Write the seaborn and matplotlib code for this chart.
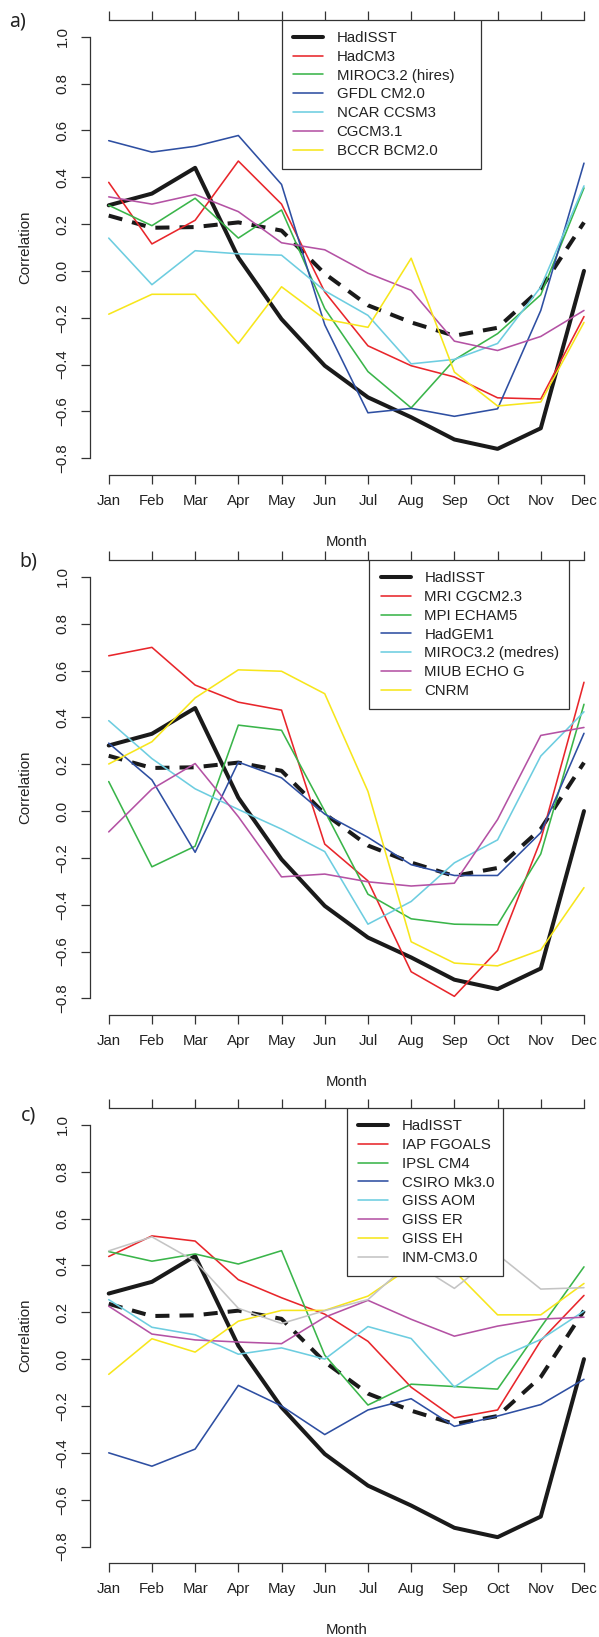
import numpy as np
import matplotlib
matplotlib.use('Agg')
import matplotlib.pyplot as plt
from matplotlib.transforms import IdentityTransform
import seaborn as sns

sns.set_theme(style="ticks")
plt.rcParams['font.family'] = ['Liberation Sans', 'DejaVu Sans']

# Data
months = ['Jan', 'Feb', 'Mar', 'Apr', 'May', 'Jun', 'Jul', 'Aug', 'Sep', 'Oct', 'Nov', 'Dec']
hadisst = [0.28, 0.33, 0.44, 0.057, -0.206, -0.405, -0.54, -0.625, -0.72, -0.76, -0.672, 0.0]
ens_mean = [0.236, 0.184, 0.187, 0.207, 0.172, -0.012, -0.147, -0.22, -0.277, -0.243, -0.076, 0.207]

names_a = ['HadCM3', 'MIROC3.2 (hires)', 'GFDL CM2.0', 'NCAR CCSM3', 'CGCM3.1', 'BCCR BCM2.0']
hadcm3 = [0.378, 0.115, 0.216, 0.469, 0.285, -0.09, -0.32, -0.405, -0.453, -0.542, -0.547, -0.195]
miroc_hires = [0.28, 0.193, 0.31, 0.14, 0.26, -0.161, -0.43, -0.585, -0.38, -0.268, -0.102, 0.354]
gfdl_cm20 = [0.556, 0.507, 0.532, 0.578, 0.369, -0.23, -0.606, -0.587, -0.621, -0.589, -0.169, 0.46]
ncar_ccsm3 = [0.14, -0.059, 0.086, 0.073, 0.067, -0.085, -0.19, -0.397, -0.378, -0.31, -0.069, 0.363]
cgcm31 = [0.316, 0.285, 0.326, 0.253, 0.12, 0.09, -0.01, -0.083, -0.30, -0.34, -0.28, -0.169]
bccr_bcm20 = [-0.185, -0.10, -0.10, -0.31, -0.068, -0.206, -0.241, 0.054, -0.432, -0.577, -0.56, -0.22]

names_b = ['MRI CGCM2.3', 'MPI ECHAM5', 'HadGEM1', 'MIROC3.2 (medres)', 'MIUB ECHO G', 'CNRM']
mri_cgcm23 = [0.663, 0.699, 0.538, 0.465, 0.431, -0.141, -0.298, -0.686, -0.791, -0.595, -0.123, 0.55]
mpi_echam5 = [0.126, -0.238, -0.15, 0.367, 0.345, 0.0, -0.355, -0.46, -0.483, -0.486, -0.183, 0.456]
hadgem1 = [0.29, 0.133, -0.176, 0.209, 0.142, -0.013, -0.112, -0.229, -0.275, -0.275, -0.092, 0.332]
miroc_medres = [0.386, 0.224, 0.095, 0.007, -0.077, -0.173, -0.483, -0.386, -0.221, -0.123, 0.235, 0.424]
miub_echog = [-0.089, 0.094, 0.203, -0.024, -0.281, -0.269, -0.302, -0.32, -0.308, -0.036, 0.323, 0.357]
cnrm = [0.201, 0.296, 0.483, 0.603, 0.597, 0.501, 0.084, -0.558, -0.649, -0.661, -0.593, -0.327]

names_c = ['IAP FGOALS', 'IPSL CM4', 'CSIRO Mk3.0', 'GISS AOM', 'GISS ER', 'GISS EH', 'INM-CM3.0']
iap_fgoals = [0.438, 0.526, 0.504, 0.339, 0.262, 0.192, 0.076, -0.12, -0.251, -0.217, 0.079, 0.272]
ipsl_cm4 = [0.459, 0.418, 0.449, 0.406, 0.463, 0.017, -0.196, -0.107, -0.117, -0.128, 0.136, 0.394]
csiro_mk30 = [-0.40, -0.457, -0.384, -0.112, -0.20, -0.322, -0.217, -0.169, -0.287, -0.243, -0.194, -0.086]
giss_aom = [0.254, 0.136, 0.104, 0.021, 0.048, 0.0, 0.139, 0.088, -0.119, 0.002, 0.084, 0.205]
giss_er = [0.226, 0.107, 0.082, 0.073, 0.066, 0.179, 0.251, 0.17, 0.098, 0.141, 0.171, 0.179]
giss_eh = [-0.065, 0.087, 0.03, 0.162, 0.208, 0.208, 0.269, 0.394, 0.376, 0.189, 0.189, 0.323]
inm_cm30 = [0.462, 0.522, 0.418, 0.217, 0.152, 0.207, 0.254, 0.418, 0.302, 0.447, 0.299, 0.305]

colors = ['#e8262b', '#3ab54a', '#2e4fa2', '#6dcde0', '#b452a4', '#f7e61c', '#c4c4c4']
axis_col = '#333333'
fs = 10.8

fig = plt.figure(figsize=(5.99, 16.37), dpi=100)
W, H = 599, 1637


def panel_axes(top_px, bottom_px):
    left, right = 89.7, 603.0
    return fig.add_axes([left / W, 1 - bottom_px / H, (right - left) / W, (bottom_px - top_px) / H])


def fmt(v):
    s = f"{abs(v):.1f}" if abs(v) < 1e-9 else f"{v:.1f}"
    return s.replace('-', '\u2212')


def draw_panel(ax, names, series, legend_x, letter, letter_xy):
    x = np.arange(12)
    handles = []
    sns.lineplot(x=x, y=hadisst, color='#1a1a1a', lw=2.9, ax=ax)
    handles.append(ax.lines[-1])
    sns.lineplot(x=x, y=ens_mean, color='#1a1a1a', lw=2.9, ax=ax)
    ax.lines[-1].set_dashes([3.5, 2.5])
    for vals, c in zip(series, colors):
        sns.lineplot(x=x, y=vals, color=c, lw=1.15, ax=ax)
        handles.append(ax.lines[-1])

    ax.set_xlim(-0.44, 11.44)
    ax.set_ylim(-0.872, 1.072)
    ax.set_xticks(x)
    ax.set_xticklabels(months)
    yt = np.round(np.arange(-0.8, 1.01, 0.2), 1)
    ax.set_yticks(yt)
    ax.set_yticklabels([fmt(v) for v in yt], rotation=90, va='center')
    ax.set_xlabel('')
    ax.set_ylabel('')

    ax.spines['right'].set_visible(False)
    ax.spines['left'].set_bounds(-0.8, 1.0)
    ax.spines['bottom'].set_bounds(0, 11)
    ax.spines['top'].set_bounds(0, 11)
    for s in ['left', 'bottom', 'top']:
        ax.spines[s].set_color(axis_col)
        ax.spines[s].set_linewidth(0.9)
    ax.tick_params(axis='both', direction='out', length=6.5, width=0.9, color=axis_col,
                   labelsize=fs, labelcolor='#222222')
    ax.tick_params(axis='x', top=True, labeltop=False, pad=7)
    ax.tick_params(axis='y', pad=8)

    ax.text(-0.126, 0.5, 'Correlation', transform=ax.transAxes, rotation=90,
            ha='center', va='center', fontsize=fs, color='#222222')
    ax.text(0.5, -0.147, 'Month', transform=ax.transAxes,
            ha='center', va='center', fontsize=fs, color='#222222')

    leg = ax.legend(handles, ['HadISST'] + names, loc='upper left',
                    bbox_to_anchor=(legend_x, 1.0), borderaxespad=0, frameon=False,
                    fontsize=fs, handlelength=2.0, handletextpad=0.92, borderpad=0.75,
                    labelspacing=0.32)
    for t in leg.get_texts():
        t.set_color('#222222')

    fig.text(letter_xy[0] / W, 1 - letter_xy[1] / H, letter, fontsize=14,
             family=['Noto Sans', 'DejaVu Sans'], ha='center', va='center', color='#222222')
    return leg


ax_a = panel_axes(19.8, 475.1)
leg_a = draw_panel(ax_a, names_a, [hadcm3, miroc_hires, gfdl_cm20, ncar_ccsm3, cgcm31, bccr_bcm20],
                   0.374, 'a)', (17.5, 21.7))

ax_b = panel_axes(560.0, 1015.3)
leg_b = draw_panel(ax_b, names_b, [mri_cgcm23, mpi_echam5, hadgem1, miroc_medres, miub_echog, cnrm],
                   0.545, 'b)', (28, 561))

ax_c = panel_axes(1108.0, 1563.4)
leg_c = draw_panel(ax_c, names_c, [iap_fgoals, ipsl_cm4, csiro_mk30, giss_aom, giss_er, giss_eh, inm_cm30],
                   0.501, 'c)', (28, 1115))

# legend frames: R sizes the box loosely on the right, so draw it by hand
fig.canvas.draw()
for leg, extra in [(leg_a, 15), (leg_b, -2), (leg_c, -3)]:
    bb = leg.get_window_extent()
    frame = plt.Rectangle((bb.x0, bb.y0), bb.width + extra, bb.height, fill=True,
                          facecolor='white', edgecolor=axis_col, lw=0.9,
                          transform=IdentityTransform(), zorder=4.9)
    leg.axes.add_artist(frame)
    frame.set_transform(IdentityTransform())
    leg.set_zorder(5)

fig.savefig('out.png', dpi=100)
